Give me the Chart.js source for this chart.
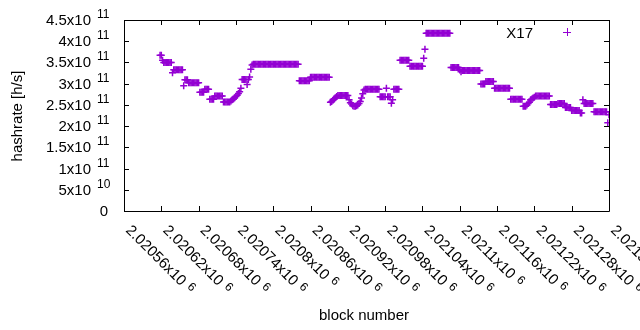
<!DOCTYPE html>
<html>
<head>
<meta charset="utf-8">
<script src="https://cdn.jsdelivr.net/npm/chart.js@4"></script>
<style>
  html, body { margin: 0; padding: 0; background: #fff; }
  canvas { display: block; }
</style>
</head>
<body>
<canvas id="chart" width="640" height="330"></canvas>
<script>
// block numbers: first point and spacing between points
var blockStart = 2020618;
var blockStep = 2;

// hashrate in units of 1e11 h/s
var hashrate = [
  3.67, 3.67, 3.55, 3.50, 3.50, 3.50, 3.50, 3.50, 3.50, 3.50,
  3.26, 3.33, 3.33, 3.33, 3.33, 3.33, 3.33, 3.33, 3.33, 2.95,
  3.09, 3.09, 3.09, 3.02, 3.02, 3.02, 3.02, 3.02, 3.02, 3.02,
  3.02, 3.02, 2.80, 2.80, 2.80, 2.80, 2.87, 2.87, 2.87, 2.87,
  2.63, 2.63, 2.63, 2.63, 2.71, 2.71, 2.71, 2.71, 2.71, 2.71,
  2.71, 2.57, 2.57, 2.57, 2.57, 2.57, 2.57, 2.59, 2.62, 2.64,
  2.67, 2.70, 2.73, 2.77, 2.81, 2.89, 3.10, 3.10, 3.10, 3.10,
  2.98, 3.10, 3.16, 3.34, 3.44, 3.46, 3.46, 3.46, 3.46, 3.46,
  3.46, 3.46, 3.46, 3.46, 3.46, 3.46, 3.46, 3.46, 3.46, 3.46,
  3.46, 3.46, 3.46, 3.46, 3.46, 3.46, 3.46, 3.46, 3.46, 3.46,
  3.46, 3.46, 3.46, 3.46, 3.46, 3.46, 3.46, 3.46, 3.46, 3.46,
  3.46, 3.46, 3.07, 3.07, 3.07, 3.07, 3.07, 3.07, 3.07, 3.07,
  3.07, 3.15, 3.15, 3.15, 3.15, 3.15, 3.15, 3.15, 3.15, 3.15,
  3.15, 3.15, 3.15, 3.15, 3.15, 3.15, 3.15, 2.56, 2.58, 2.61,
  2.64, 2.67, 2.70, 2.72, 2.72, 2.72, 2.72, 2.72, 2.72, 2.72,
  2.72, 2.72, 2.62, 2.55, 2.52, 2.48, 2.47, 2.47, 2.48, 2.50,
  2.53, 2.58, 2.66, 2.76, 2.85, 2.87, 2.87, 2.87, 2.87, 2.87,
  2.87, 2.87, 2.87, 2.87, 2.87, 2.87, 2.87, 2.69, 2.69, 2.69,
  2.69, 2.69, 2.89, 2.69, 2.69, 2.69, 2.54, 2.62, 2.87, 2.87,
  2.87, 2.87, 2.87, 3.55, 3.55, 3.55, 3.55, 3.55, 3.55, 3.55,
  3.55, 3.41, 3.41, 3.41, 3.41, 3.41, 3.41, 3.41, 3.41, 3.41,
  3.41, 3.41, 3.60, 3.81, 4.19, 4.19, 4.19, 4.19, 4.19, 4.19,
  4.19, 4.19, 4.19, 4.19, 4.19, 4.19, 4.19, 4.19, 4.19, 4.19,
  4.19, 4.19, 4.19, 4.19, 3.38, 3.38, 3.38, 3.38, 3.38, 3.38,
  3.38, 3.32, 3.28, 3.31, 3.31, 3.31, 3.31, 3.31, 3.31, 3.31,
  3.31, 3.31, 3.31, 3.31, 3.31, 3.31, 3.31, 3.31, 2.99, 2.99,
  2.99, 2.99, 3.05, 3.05, 3.05, 3.05, 3.05, 3.05, 3.05, 2.89,
  2.89, 2.89, 2.89, 2.89, 2.89, 2.89, 2.89, 2.89, 2.89, 2.89,
  2.89, 2.89, 2.63, 2.63, 2.63, 2.63, 2.63, 2.63, 2.63, 2.63,
  2.63, 2.63, 2.47, 2.47, 2.47, 2.50, 2.53, 2.56, 2.62, 2.64,
  2.66, 2.68, 2.71, 2.71, 2.71, 2.71, 2.71, 2.71, 2.71, 2.71,
  2.71, 2.71, 2.71, 2.71, 2.51, 2.51, 2.51, 2.51, 2.51, 2.51,
  2.53, 2.53, 2.53, 2.53, 2.53, 2.53, 2.44, 2.44, 2.44, 2.44,
  2.44, 2.37, 2.37, 2.37, 2.37, 2.37, 2.37, 2.37, 2.31, 2.31,
  2.62, 2.53, 2.53, 2.53, 2.53, 2.53, 2.53, 2.53, 2.53, 2.34,
  2.34, 2.34, 2.34, 2.34, 2.34, 2.34, 2.34, 2.34, 2.34, 2.34,
  2.08, 2.27
];

var xTicks = [2020560, 2020620, 2020680, 2020740, 2020800, 2020860, 2020920,
              2020980, 2021040, 2021100, 2021160, 2021220, 2021280, 2021340];
var xTickMant = ['2.02056x10', '2.02062x10', '2.02068x10', '2.02074x10', '2.0208x10',
                 '2.02086x10', '2.02092x10', '2.02098x10', '2.02104x10', '2.0211x10',
                 '2.02116x10', '2.02122x10', '2.02128x10', '2.02134x10'];
var xTickExp = '6';
var yTicks = [0, 5e10, 1e11, 1.5e11, 2e11, 2.5e11, 3e11, 3.5e11, 4e11, 4.5e11];
var yTickMant = ['0', '5x10', '1x10', '1.5x10', '2x10', '2.5x10', '3x10', '3.5x10', '4x10', '4.5x10'];
var yTickExp = ['', '10', '11', '11', '11', '11', '11', '11', '11', '11'];

var seriesName = 'X17';
var color = '#9400d3';
var font = "'Liberation Sans', Arial, sans-serif";

var points = hashrate.map(function(v, i) {
  return { x: blockStart + i * blockStep, y: v * 1e11 };
});

// gnuplot style frame, inward ticks, superscript tick labels, key
var gnuplotFrame = {
  id: 'gnuplotFrame',
  afterDraw: function(chart) {
    var ctx = chart.ctx, area = chart.chartArea;
    var xs = chart.scales.x, ys = chart.scales.y;
    ctx.save();
    ctx.strokeStyle = '#000';
    ctx.lineWidth = 1;
    ctx.beginPath();
    ctx.rect(area.left + 0.5, area.top + 0.5, area.right - area.left, area.bottom - area.top);
    yTicks.forEach(function(v) {
      var py = Math.round(ys.getPixelForValue(v)) + 0.5;
      ctx.moveTo(area.left, py); ctx.lineTo(area.left + 5, py);
      ctx.moveTo(area.right, py); ctx.lineTo(area.right - 5, py);
    });
    xTicks.forEach(function(v) {
      var px = Math.round(xs.getPixelForValue(v)) + 0.5;
      ctx.moveTo(px, area.bottom); ctx.lineTo(px, area.bottom - 5);
      ctx.moveTo(px, area.top); ctx.lineTo(px, area.top + 5);
    });
    ctx.stroke();

    ctx.fillStyle = '#000';
    ctx.textBaseline = 'alphabetic';
    yTicks.forEach(function(v, i) {
      var py = ys.getPixelForValue(v);
      ctx.font = '15px ' + font;
      ctx.textAlign = 'right';
      if (!yTickExp[i]) {
        ctx.fillText(yTickMant[i], 108, py + 5);
        return;
      }
      ctx.fillText(yTickMant[i], 91, py + 5);
      ctx.font = '12px ' + font;
      ctx.textAlign = 'left';
      ctx.fillText(yTickExp[i], 97, py - 2);
    });

    xTicks.forEach(function(v, i) {
      var px = xs.getPixelForValue(v);
      ctx.save();
      ctx.translate(px + 1, 231);
      ctx.rotate(Math.PI / 4);
      ctx.font = '15px ' + font;
      ctx.textAlign = 'left';
      ctx.fillText(xTickMant[i], 0, 0);
      var w = ctx.measureText(xTickMant[i]).width;
      ctx.font = '12px ' + font;
      ctx.fillText(xTickExp, w + 5, -4);
      ctx.restore();
    });

    ctx.font = '15px ' + font;
    ctx.textAlign = 'center';
    ctx.fillText('block number', 364, 320);
    ctx.save();
    ctx.translate(22, 116);
    ctx.rotate(-Math.PI / 2);
    ctx.fillText('hashrate [h/s]', 0, 0);
    ctx.restore();

    // key
    ctx.textAlign = 'right';
    ctx.fillText(seriesName, 533, 38);
    ctx.strokeStyle = color;
    ctx.beginPath();
    ctx.moveTo(563, 32.5); ctx.lineTo(571, 32.5);
    ctx.moveTo(567.5, 28); ctx.lineTo(567.5, 36);
    ctx.stroke();
    ctx.restore();
  }
};

new Chart(document.getElementById('chart').getContext('2d'), {
  type: 'scatter',
  data: {
    datasets: [{
      label: seriesName,
      data: points,
      pointStyle: 'cross',
      pointRadius: 3.5,
      borderWidth: 1.5,
      borderColor: color,
      backgroundColor: color
    }]
  },
  options: {
    responsive: false,
    animation: false,
    events: [],
    layout: { padding: { left: 124, right: 31, top: 20, bottom: 119 } },
    scales: {
      x: { type: 'linear', display: false, min: 2020560, max: 2021340 },
      y: { type: 'linear', display: false, min: 0, max: 4.5e11 }
    },
    plugins: {
      legend: { display: false },
      tooltip: { enabled: false }
    }
  },
  plugins: [gnuplotFrame]
});
</script>
</body>
</html>
